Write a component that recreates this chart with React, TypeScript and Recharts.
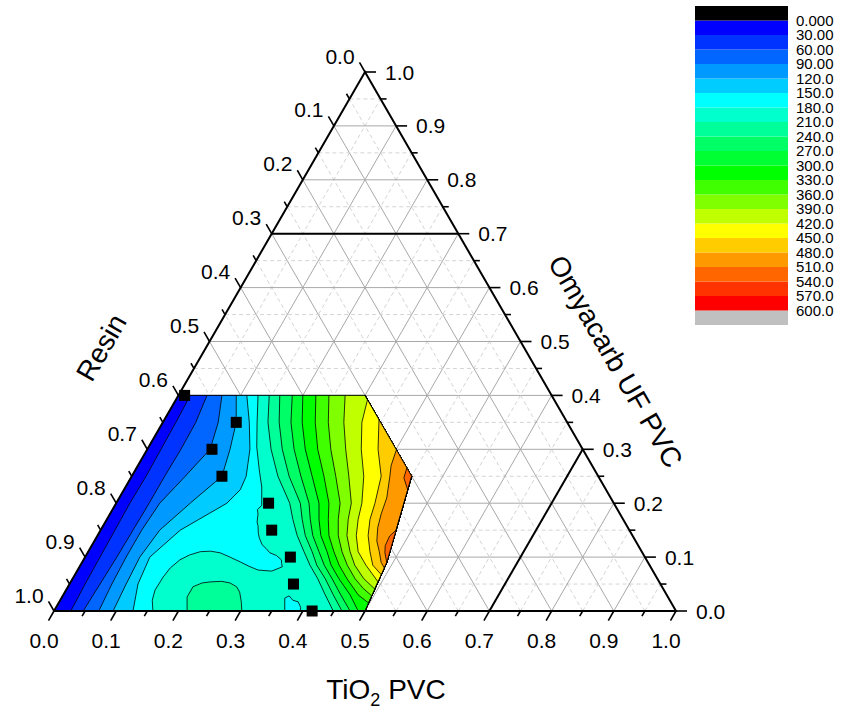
import React from "react";
import { ScatterChart, Scatter, XAxis, YAxis, BarChart, Bar } from "recharts";

// ternary points are [TiO2 PVC, Omyacarb UF PVC]; Resin = 1 - both
type TP = [number, number];

const H = Math.sqrt(3) / 2;
const FONT = "Arial, 'Liberation Sans', sans-serif";

const TICKS = [0, 0.05, 0.1, 0.15, 0.2, 0.25, 0.3, 0.35, 0.4, 0.45, 0.5, 0.55, 0.6, 0.65, 0.7, 0.75, 0.8, 0.85, 0.9, 0.95, 1];
const GRID = TICKS.slice(1, -1);
const LIMIT = 0.7;

const LEVEL_COLORS = [
  "#0000FF", "#0033FF", "#0066FF", "#0099FF", "#00CCFF",
  "#00FFFF", "#00FFCC", "#00FF99", "#00FF66", "#00FF33",
  "#00FF00", "#40FF00", "#80FF00", "#BFFF00", "#FFFF00",
  "#FFCC00", "#FF9900", "#FF6600", "#FF3300", "#FF0000",
];
const CB_LABELS = [
  "0.000", "30.00", "60.00", "90.00", "120.0", "150.0", "180.0", "210.0", "240.0", "270.0", "300.0",
  "330.0", "360.0", "390.0", "420.0", "450.0", "480.0", "510.0", "540.0", "570.0", "600.0",
];

// measured compositions
const MARK_TIO2 = [0.01, 0.118, 0.104, 0.145, 0.245, 0.275, 0.33, 0.36, 0.415];
const MARK_OMYA = [0.4, 0.35, 0.3, 0.25, 0.2, 0.15, 0.1, 0.05, 0];

// data hull: F, E, D, C, B, A
const HULL: TP[] = [[0, 0], [0.5, 0], [0.49, 0.09], [0.45, 0.25], [0.3, 0.4], [0, 0.4]];
const [, E, D, C, B] = HULL;

// contour lines (top -> bottom)
const C30: TP[] = [[0.019, 0.4], [0.021, 0.35], [0.022, 0.3], [0.023, 0.25], [0.022, 0.2], [0.023, 0.15], [0.024, 0.1], [0.025, 0.05], [0.027, 0]];
const C60: TP[] = [[0.046, 0.4], [0.053, 0.35], [0.054, 0.3], [0.053, 0.25], [0.053, 0.2], [0.052, 0.15], [0.051, 0.1], [0.049, 0.05], [0.047, 0]];
const C90: TP[] = [[0.07, 0.4], [0.089, 0.35], [0.101, 0.3], [0.086, 0.25], [0.07, 0.2], [0.066, 0.15], [0.066, 0.1], [0.068, 0.05], [0.072, 0]];
const C120: TP[] = [[0.093, 0.4], [0.118, 0.35], [0.133, 0.3], [0.145, 0.25], [0.119, 0.2], [0.095, 0.15], [0.088, 0.1], [0.091, 0.05], [0.095, 0]];
const C150: TP[] = [[0.11, 0.4], [0.139, 0.35], [0.165, 0.3], [0.184, 0.25], [0.187, 0.225], [0.178, 0.2], [0.128, 0.15], [0.104, 0.1], [0.11, 0.05], [0.127, 0]];
const C180: TP[] = [
  [0.128, 0.4], [0.152, 0.349], [0.174, 0.304], [0.199, 0.262], [0.219, 0.23], [0.231, 0.206], [0.236, 0.196],
  [0.233, 0.188], [0.238, 0.18], [0.244, 0.165], [0.249, 0.158], [0.256, 0.145], [0.262, 0.136], [0.273, 0.123],
  [0.283, 0.116], [0.293, 0.108], [0.306, 0.103], [0.318, 0.095], [0.322, 0.088], [0.326, 0.082], [0.313, 0.074],
  [0.29, 0.076], [0.272, 0.083], [0.254, 0.091], [0.233, 0.1], [0.213, 0.108], [0.196, 0.111], [0.18, 0.11],
  [0.166, 0.104], [0.155, 0.095], [0.147, 0.08], [0.144, 0.063], [0.143, 0.039], [0.148, 0.02], [0.159, 0],
];
const ISLAND: TP[] = [[0.371, 0], [0.359, 0.024], [0.364, 0.028], [0.374, 0.02], [0.384, 0.017], [0.393, 0.007], [0.396, 0]];
const BLOB: TP[] = [[0.214, 0], [0.201, 0.026], [0.201, 0.045], [0.212, 0.052], [0.224, 0.054], [0.242, 0.055], [0.257, 0.052], [0.271, 0.045], [0.281, 0.035], [0.292, 0.018], [0.302, 0]];
const C210: TP[] = [[0.146, 0.4], [0.169, 0.35], [0.199, 0.3], [0.235, 0.25], [0.279, 0.2], [0.299, 0.17], [0.321, 0.14], [0.347, 0.11], [0.369, 0.085], [0.394, 0.06], [0.421, 0.03], [0.449, 0]];
const C240: TP[] = [[0.163, 0.4], [0.187, 0.35], [0.217, 0.3], [0.253, 0.25], [0.296, 0.2], [0.314, 0.17], [0.334, 0.14], [0.36, 0.11], [0.38, 0.085], [0.406, 0.06], [0.434, 0.03], [0.463, 0]];
const C270: TP[] = [[0.183, 0.4], [0.206, 0.35], [0.236, 0.3], [0.272, 0.25], [0.31, 0.2], [0.327, 0.17], [0.346, 0.14], [0.371, 0.11], [0.392, 0.085], [0.417, 0.06], [0.446, 0.03], [0.476, 0]];
const C300: TP[] = [[0.2, 0.4], [0.224, 0.35], [0.254, 0.3], [0.29, 0.25], [0.326, 0.2], [0.341, 0.17], [0.359, 0.14], [0.384, 0.11], [0.403, 0.085], [0.428, 0.06], [0.461, 0.03], [0.489, 0]];
const C330: TP[] = [[0.221, 0.4], [0.245, 0.35], [0.274, 0.3], [0.309, 0.25], [0.342, 0.2], [0.356, 0.17], [0.372, 0.14], [0.395, 0.11], [0.416, 0.085], [0.441, 0.06], [0.474, 0.03], [0.498, 0.015]];
const C360: TP[] = [[0.242, 0.4], [0.266, 0.35], [0.295, 0.3], [0.328, 0.25], [0.36, 0.2], [0.372, 0.17], [0.387, 0.14], [0.408, 0.11], [0.429, 0.085], [0.454, 0.06], [0.476, 0.042], [0.497, 0.028]];
const C390: TP[] = [[0.268, 0.4], [0.291, 0.35], [0.319, 0.3], [0.349, 0.25], [0.378, 0.2], [0.388, 0.17], [0.401, 0.14], [0.421, 0.11], [0.441, 0.085], [0.468, 0.06], [0.495, 0.041]];
const C420: TP[] = [[0.308, 0.392], [0.32, 0.35], [0.344, 0.3], [0.373, 0.25], [0.395, 0.2], [0.404, 0.17], [0.416, 0.14], [0.434, 0.11], [0.459, 0.085], [0.494, 0.054]];
const C450: TP[] = [[0.345, 0.355], [0.371, 0.3], [0.401, 0.25], [0.416, 0.2], [0.423, 0.17], [0.435, 0.14], [0.453, 0.11], [0.47, 0.085], [0.493, 0.067]];
const C480: TP[] = [[0.401, 0.299], [0.407, 0.27], [0.415, 0.25], [0.43, 0.21], [0.436, 0.18], [0.443, 0.155], [0.454, 0.13], [0.468, 0.11], [0.481, 0.09], [0.491, 0.08]];
const TIP510: TP[] = [[0.4345, 0.2655], [0.439, 0.247], [0.4564, 0.2246], [0.45, 0.25]];
const LOW510: TP[] = [[0.475, 0.15], [0.47, 0.139], [0.472, 0.121], [0.478, 0.108], [0.49, 0.09]];

const toXY = ([t, o]: TP) => ({ x: t + o / 2, y: o * H });

// region above a level: the line plus the hull on its high side
function closeRegion(line: TP[]): TP[] {
  const first = line[0];
  const last = line[line.length - 1];
  const tail: TP[] = [];
  if (last[1] === 0) tail.push(E);
  tail.push(D, C);
  if (first[1] === 0.4) tail.push(B);
  return [...line, ...tail];
}

const FILLS: { pts: TP[]; color: number }[] = [
  { pts: HULL, color: 0 },
  { pts: closeRegion(C30), color: 1 },
  { pts: closeRegion(C60), color: 2 },
  { pts: closeRegion(C90), color: 3 },
  { pts: closeRegion(C120), color: 4 },
  { pts: closeRegion(C150), color: 5 },
  { pts: closeRegion(C180), color: 6 },
  { pts: ISLAND, color: 5 },
  { pts: BLOB, color: 7 },
  { pts: closeRegion(C210), color: 7 },
  { pts: closeRegion(C240), color: 8 },
  { pts: closeRegion(C270), color: 9 },
  { pts: closeRegion(C300), color: 10 },
  { pts: closeRegion(C330), color: 11 },
  { pts: closeRegion(C360), color: 12 },
  { pts: closeRegion(C390), color: 13 },
  { pts: closeRegion(C420), color: 14 },
  { pts: closeRegion(C450), color: 15 },
  { pts: closeRegion(C480), color: 16 },
  { pts: TIP510, color: 17 },
  { pts: LOW510, color: 17 },
];

const Nothing = () => <g />;

function path(key: string, pts: TP[], style: Record<string, any>) {
  return (
    <Scatter
      key={key}
      data={pts.map(toXY)}
      line={style}
      shape={Nothing}
      legendType="none"
      isAnimationActive={false}
    />
  );
}

const isMajor = (v: number) => Math.round(v * 100) % 10 === 0;

function tickShape(dir: [number, number], off: [number, number], anchor: string) {
  return (p: any) => {
    const major = isMajor(p.payload.v);
    const len = major ? 11 : 6;
    return (
      <g>
        <line x1={p.cx} y1={p.cy} x2={p.cx + dir[0] * len} y2={p.cy + dir[1] * len} stroke="#000" strokeWidth={1.6} />
        {major && (
          <text
            x={p.cx + off[0]}
            y={p.cy + off[1]}
            textAnchor={anchor}
            dominantBaseline="central"
            fontSize={21}
            fontFamily={FONT}
            fill="#000"
          >
            {p.payload.v.toFixed(1)}
          </text>
        )}
      </g>
    );
  };
}

const bottomTicks = TICKS.map((v) => ({ ...toXY([v, 0]), v }));
const rightTicks = TICKS.map((v) => ({ ...toXY([1 - v, v]), v }));
const leftTicks = TICKS.map((v) => ({ ...toXY([0, 1 - v]), v }));

const TioTitle = (p: any) => (
  <text x={p.cx + 21} y={p.cy + 88} textAnchor="middle" fontSize={28} fontFamily={FONT} fill="#000">
    TiO<tspan dy={7} fontSize={18}>2</tspan>
    <tspan dy={-7}> PVC</tspan>
  </text>
);
const ResinTitle = (p: any) => {
  const x = p.cx - 108;
  const y = p.cy + 6;
  return (
    <text x={x} y={y} textAnchor="middle" dominantBaseline="central" fontSize={28} fontFamily={FONT} fill="#000" transform={`rotate(-60 ${x} ${y})`}>
      Resin
    </text>
  );
};
const OmyaTitle = (p: any) => {
  const x = p.cx + 95;
  const y = p.cy + 20;
  return (
    <text x={x} y={y} textAnchor="middle" dominantBaseline="central" fontSize={28} fontFamily={FONT} fill="#000" transform={`rotate(60 ${x} ${y})`}>
      Omyacarb UF PVC
    </text>
  );
};

const Marker = (p: any) => <rect x={p.cx - 5.5} y={p.cy - 5.5} width={11} height={11} fill="#000" />;

// colour bar, stacked bottom (above range) to top (below range)
const CB_STACK = ["#C0C0C0", ...[...LEVEL_COLORS].reverse(), "#000000"];
const cbRow: Record<string, any> = { name: "scale" };
CB_STACK.forEach((_, i) => (cbRow[`s${i}`] = 1));
const CB_TICKS = CB_LABELS.map((_, i) => CB_LABELS.length - i);

export default function App() {
  const grid = GRID.flatMap((c) => {
    const solid = isMajor(c);
    const style = solid
      ? { stroke: "#A8A8A8", strokeWidth: 1 }
      : { stroke: "#D4D4D4", strokeWidth: 1, strokeDasharray: "4 3" };
    return [
      path(`go${c}`, [[0, c], [1 - c, c]], style),
      path(`gt${c}`, [[c, 0], [c, 1 - c]], style),
      path(`gr${c}`, [[1 - c, 0], [0, 1 - c]], style),
    ];
  });

  return (
    <div style={{ position: "absolute", left: 0, top: 0, width: 843, height: 713, background: "#fff" }}>
      <div style={{ position: "absolute", left: 0, top: 0 }}>
        <ScatterChart width={843} height={713} margin={{ top: 72, right: 167, bottom: 102, left: 54 }}>
          <XAxis type="number" dataKey="x" domain={[0, 1]} hide />
          <YAxis type="number" dataKey="y" domain={[0, H]} hide />
          {grid}
          {FILLS.map((f, i) =>
            path(`f${i}`, f.pts, { fill: LEVEL_COLORS[f.color], stroke: "#000", strokeWidth: 0.8 })
          )}
          {path("hull", [...HULL, HULL[0]], { stroke: "#000", strokeWidth: 0.9 })}
          {path("limO", [[0, LIMIT], [1 - LIMIT, LIMIT]], { stroke: "#000", strokeWidth: 2 })}
          {path("limT", [[LIMIT, 0], [LIMIT, 1 - LIMIT]], { stroke: "#000", strokeWidth: 2 })}
          {path("frame", [[0, 0], [1, 0], [0, 1], [0, 0]], { stroke: "#000", strokeWidth: 2 })}
          <Scatter data={bottomTicks} shape={tickShape([-0.5, 0.866], [-10, 29], "middle")} isAnimationActive={false} />
          <Scatter data={rightTicks} shape={tickShape([1, 0], [20, 0], "start")} isAnimationActive={false} />
          <Scatter data={leftTicks} shape={tickShape([-0.5, -0.866], [-25, -16], "middle")} isAnimationActive={false} />
          <Scatter data={[toXY([0.5, 0])]} shape={TioTitle} isAnimationActive={false} />
          <Scatter data={[toXY([0, 0.5])]} shape={ResinTitle} isAnimationActive={false} />
          <Scatter data={[toXY([0.5, 0.5])]} shape={OmyaTitle} isAnimationActive={false} />
          <Scatter
            data={MARK_TIO2.map((t, i) => toXY([t, MARK_OMYA[i]]))}
            shape={Marker}
            isAnimationActive={false}
          />
        </ScatterChart>
      </div>
      <div style={{ position: "absolute", left: 0, top: 0 }}>
        <BarChart
          width={843}
          height={330}
          data={[cbRow]}
          margin={{ top: 6, right: 0, bottom: 5, left: 695 }}
          barCategoryGap={0}
          barGap={0}
        >
          <XAxis dataKey="name" hide />
          <YAxis
            orientation="right"
            type="number"
            width={55}
            domain={[0, CB_STACK.length]}
            ticks={CB_TICKS}
            interval={0}
            tickFormatter={(v: number) => CB_LABELS[CB_LABELS.length - v]}
            axisLine={false}
            tickLine={false}
            tickSize={0}
            tickMargin={8}
            tick={{ fontSize: 15, fill: "#000", fontFamily: FONT }}
          />
          {CB_STACK.map((c, i) => (
            <Bar key={i} dataKey={`s${i}`} stackId="cb" fill={c} isAnimationActive={false} />
          ))}
        </BarChart>
      </div>
    </div>
  );
}
